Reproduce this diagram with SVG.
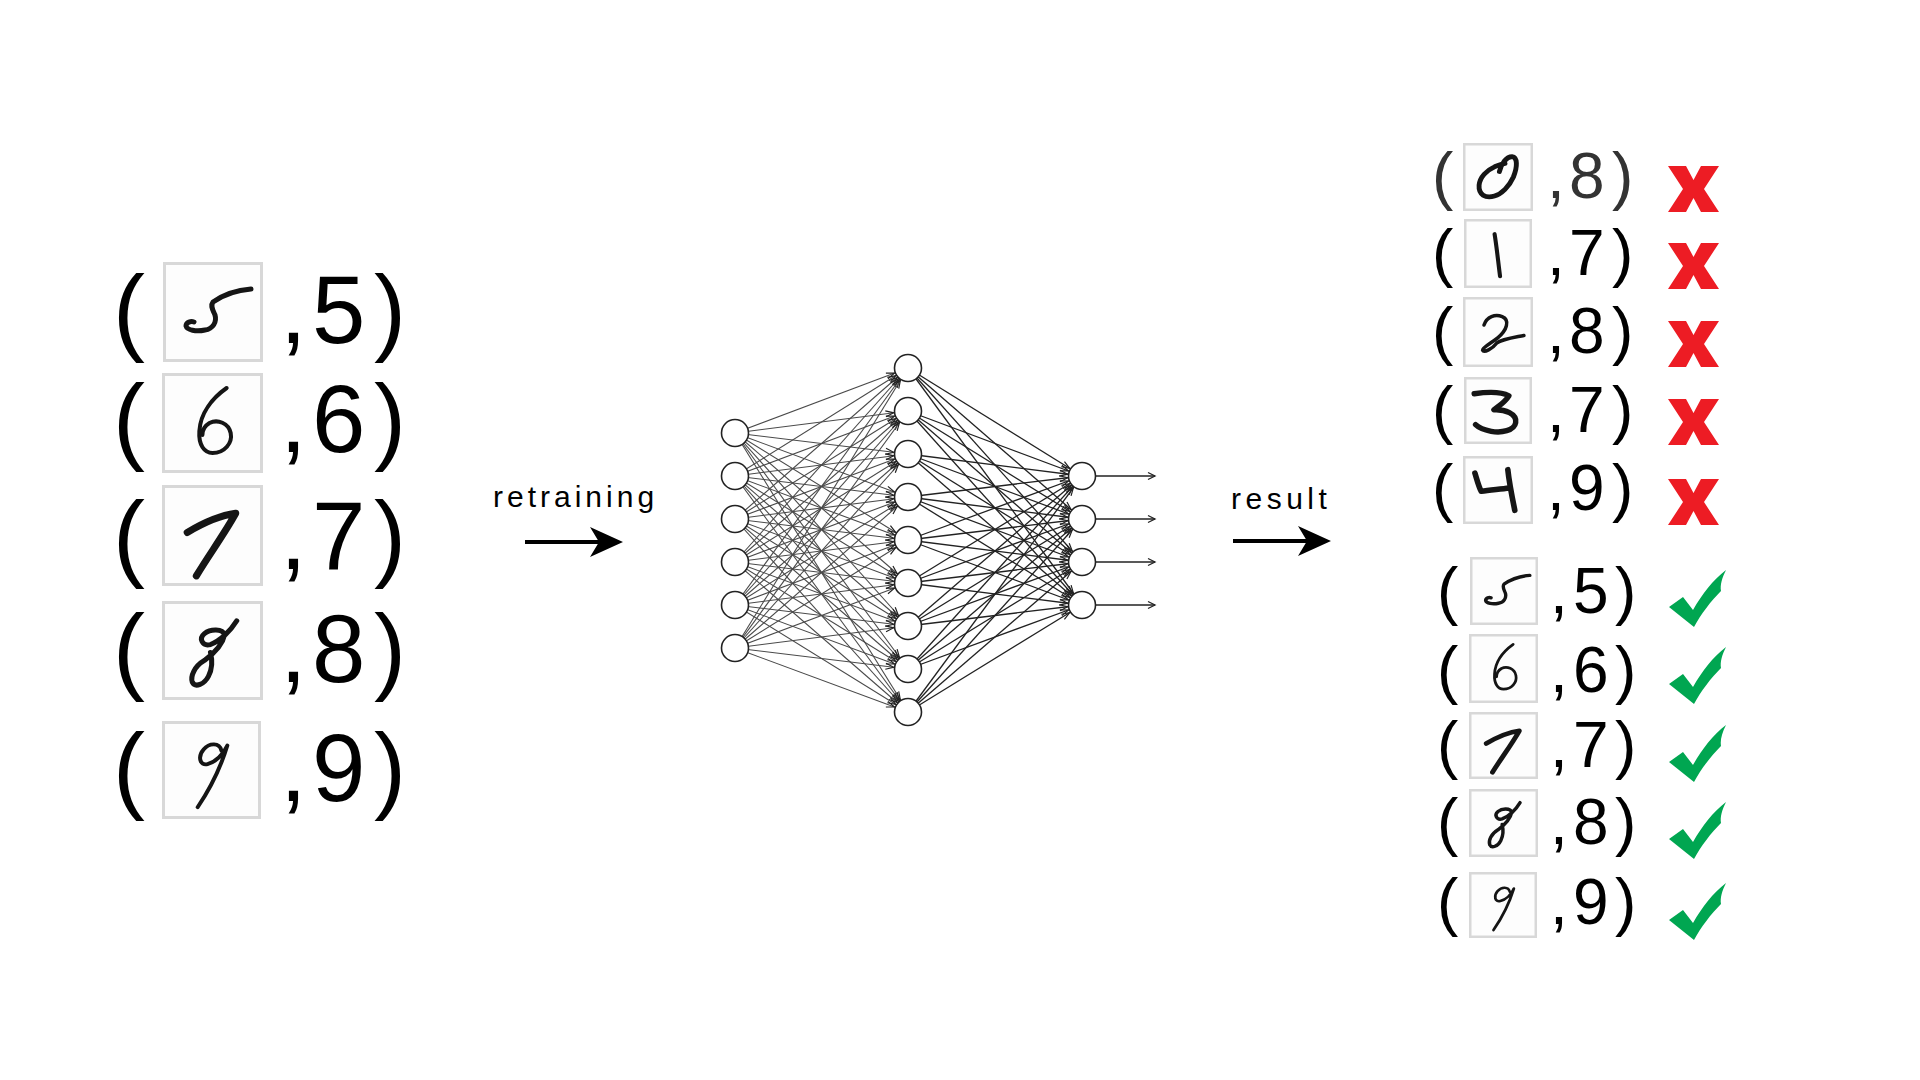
<svg xmlns="http://www.w3.org/2000/svg" width="1920" height="1080" viewBox="0 0 1920 1080">
<style>
.t{font-family:"Liberation Sans",Arial,sans-serif;fill:#000}
.big{font-size:96px}
.med{font-size:64px}
.lab{font-size:30px}
.box{fill:#fdfdfd;stroke:#d8d8d8;stroke-width:3}
.dg{fill:none;stroke:#151515;stroke-linecap:round;stroke-linejoin:round}
.node{fill:#fff;stroke:#222;stroke-width:1.6}
.x{fill:#ed1c24}
.ok{fill:#00a651}
</style>
<defs>
<marker id="ah" markerUnits="userSpaceOnUse" markerWidth="30" markerHeight="12" refX="28.5" refY="6" orient="auto">
<path d="M6,3 L14,6 L6,9" fill="none" stroke="#222" stroke-width="1.2"/>
</marker>
<marker id="ao" markerUnits="userSpaceOnUse" markerWidth="12" markerHeight="12" refX="10" refY="6" orient="auto">
<path d="M3,2.5 L10,6 L3,9.5" fill="none" stroke="#222" stroke-width="1.3"/>
</marker>
<symbol id="d0" viewBox="0 0 100 100" preserveAspectRatio="none"><path class="dg" stroke-width="7" d="M52,42 C55,30 62,20 70,20 C78,21 78,35 72,50 C66,64 55,75 45,78 C32,82 22,76 23,62 C24,50 34,40 45,35 C50,33 55,31 60,30"/></symbol>
<symbol id="d1" viewBox="0 0 100 100" preserveAspectRatio="none"><path class="dg" stroke-width="6" d="M45,22 C48,40 50,60 53,83"/></symbol>
<symbol id="d2" viewBox="0 0 100 100" preserveAspectRatio="none"><path class="dg" stroke-width="5" d="M30,40 C34,28 46,24 56,28 C68,33 62,48 50,58 C40,66 28,72 28,76 C30,80 42,74 48,66 C56,60 72,58 87,55"/></symbol>
<symbol id="d3" viewBox="0 0 100 100" preserveAspectRatio="none"><path class="dg" stroke-width="8" d="M15,25 C35,22 55,22 66,28 C60,38 50,44 44,49 C60,48 78,55 76,68 C74,80 55,84 40,81 C30,79 22,76 17,71"/></symbol>
<symbol id="d4" viewBox="0 0 100 100" preserveAspectRatio="none"><path class="dg" stroke-width="8" d="M17,25 C20,35 22,44 26,52 C38,50 52,49 66,47 M64,20 C66,40 70,60 74,80"/></symbol>
<symbol id="d5" viewBox="0 0 100 100" preserveAspectRatio="none"><path class="dg" stroke-width="5" d="M88,27 C75,28 60,33 50,40 C47,44 50,48 52,53 C54,60 50,67 42,68 C33,70 24,68 23,64 C23,60 28,59 31,60"/></symbol>
<symbol id="d6" viewBox="0 0 100 100" preserveAspectRatio="none"><path class="dg" stroke-width="4" d="M64,15 C50,25 38,40 37,58 C36,72 42,80 50,80 C62,80 70,70 68,60 C66,50 55,46 47,50 C42,53 40,58 40,62"/></symbol>
<symbol id="d7" viewBox="0 0 100 100" preserveAspectRatio="none"><path class="dg" stroke-width="7" d="M25,47 C40,38 58,30 73,28 C62,48 46,70 34,90"/></symbol>
<symbol id="d8" viewBox="0 0 100 100" preserveAspectRatio="none"><path class="dg" stroke-width="5" d="M74,20 C68,30 58,40 48,44 C40,46 36,38 42,33 C48,28 60,28 62,34 C60,44 50,54 42,60 C32,66 28,76 30,82 C33,88 42,84 46,76 C50,68 50,60 48,52"/></symbol>
<symbol id="d9" viewBox="0 0 100 100" preserveAspectRatio="none"><path class="dg" stroke-width="4" d="M60,30 C58,22 48,22 42,29 C36,36 38,46 46,44 C54,42 62,34 66,25 C60,45 48,70 36,88"/></symbol>
<path id="xm" d="M0,0 L18,0 L25.5,14 L33,0 L51,0 L36,23 L51,46 L33,46 L25.5,32 L18,46 L0,46 L15,23 Z"/>
<path id="ck" d="M0,37 L14,27 L24,40 C33,24 44,10 57,0 C53,8 51,15 52,21 C42,31 32,44 25,57 Z"/>
</defs>
<rect width="1920" height="1080" fill="#fff"/>

<!-- left training samples -->
<g id="train-5">
<text class="t big" x="113" y="343">(</text>
<rect class="box" x="164.5" y="263.5" width="97" height="97"/><use href="#d5" x="163" y="262" width="100" height="100"/>
<text class="t big" x="280 312 374" y="343">,5)</text>
</g>
<g id="train-6">
<text class="t big" x="113" y="452">(</text>
<rect class="box" x="163.5" y="374.5" width="98" height="97"/><use href="#d6" x="162" y="373" width="101" height="100"/>
<text class="t big" x="280 312 374" y="452">,6)</text>
</g>
<g id="train-7">
<text class="t big" x="113" y="569">(</text>
<rect class="box" x="163.5" y="486.5" width="98" height="98"/><use href="#d7" x="162" y="485" width="101" height="101"/>
<text class="t big" x="280 312 374" y="569">,7)</text>
</g>
<g id="train-8">
<text class="t big" x="113" y="682">(</text>
<rect class="box" x="163.5" y="602.5" width="98" height="96"/><use href="#d8" x="162" y="601" width="101" height="99"/>
<text class="t big" x="280 312 374" y="682">,8)</text>
</g>
<g id="train-9">
<text class="t big" x="113" y="801">(</text>
<rect class="box" x="163.5" y="722.5" width="96" height="95"/><use href="#d9" x="162" y="721" width="99" height="98"/>
<text class="t big" x="280 312 374" y="801">,9)</text>
</g>

<!-- labels and big arrows -->
<g id="retraining">
<text class="t lab" x="493" y="507" letter-spacing="4">retraining</text>
<line x1="525" y1="542" x2="602" y2="542" stroke="#000" stroke-width="4"/>
<polygon points="623,542 590,527 599,542 590,557" fill="#000"/>
</g>
<g id="result">
<text class="t lab" x="1231" y="509" letter-spacing="4.5">result</text>
<line x1="1233" y1="541" x2="1308" y2="541" stroke="#000" stroke-width="4"/>
<polygon points="1331,541 1298,526 1307,541 1298,556" fill="#000"/>
</g>

<!-- network connectors -->
<g id="connectors" fill="none">
<g stroke="#4a4a4a" stroke-width="1.1" marker-end="url(#ah)">
<line x1="735" y1="433" x2="908" y2="368"/><line x1="735" y1="433" x2="908" y2="411"/><line x1="735" y1="433" x2="908" y2="454"/><line x1="735" y1="433" x2="908" y2="497"/><line x1="735" y1="433" x2="908" y2="540"/><line x1="735" y1="433" x2="908" y2="583"/><line x1="735" y1="433" x2="908" y2="626"/><line x1="735" y1="433" x2="908" y2="669"/><line x1="735" y1="433" x2="908" y2="712"/>
<line x1="735" y1="476" x2="908" y2="368"/><line x1="735" y1="476" x2="908" y2="411"/><line x1="735" y1="476" x2="908" y2="454"/><line x1="735" y1="476" x2="908" y2="497"/><line x1="735" y1="476" x2="908" y2="540"/><line x1="735" y1="476" x2="908" y2="583"/><line x1="735" y1="476" x2="908" y2="626"/><line x1="735" y1="476" x2="908" y2="669"/><line x1="735" y1="476" x2="908" y2="712"/>
<line x1="735" y1="519" x2="908" y2="368"/><line x1="735" y1="519" x2="908" y2="411"/><line x1="735" y1="519" x2="908" y2="454"/><line x1="735" y1="519" x2="908" y2="497"/><line x1="735" y1="519" x2="908" y2="540"/><line x1="735" y1="519" x2="908" y2="583"/><line x1="735" y1="519" x2="908" y2="626"/><line x1="735" y1="519" x2="908" y2="669"/><line x1="735" y1="519" x2="908" y2="712"/>
<line x1="735" y1="562" x2="908" y2="368"/><line x1="735" y1="562" x2="908" y2="411"/><line x1="735" y1="562" x2="908" y2="454"/><line x1="735" y1="562" x2="908" y2="497"/><line x1="735" y1="562" x2="908" y2="540"/><line x1="735" y1="562" x2="908" y2="583"/><line x1="735" y1="562" x2="908" y2="626"/><line x1="735" y1="562" x2="908" y2="669"/><line x1="735" y1="562" x2="908" y2="712"/>
<line x1="735" y1="605" x2="908" y2="368"/><line x1="735" y1="605" x2="908" y2="411"/><line x1="735" y1="605" x2="908" y2="454"/><line x1="735" y1="605" x2="908" y2="497"/><line x1="735" y1="605" x2="908" y2="540"/><line x1="735" y1="605" x2="908" y2="583"/><line x1="735" y1="605" x2="908" y2="626"/><line x1="735" y1="605" x2="908" y2="669"/><line x1="735" y1="605" x2="908" y2="712"/>
<line x1="735" y1="648" x2="908" y2="368"/><line x1="735" y1="648" x2="908" y2="411"/><line x1="735" y1="648" x2="908" y2="454"/><line x1="735" y1="648" x2="908" y2="497"/><line x1="735" y1="648" x2="908" y2="540"/><line x1="735" y1="648" x2="908" y2="583"/><line x1="735" y1="648" x2="908" y2="626"/><line x1="735" y1="648" x2="908" y2="669"/><line x1="735" y1="648" x2="908" y2="712"/>
</g>
<g stroke="#222" stroke-width="1.3" marker-end="url(#ah)">
<line x1="908" y1="368" x2="1082" y2="476"/><line x1="908" y1="368" x2="1082" y2="519"/><line x1="908" y1="368" x2="1082" y2="562"/><line x1="908" y1="368" x2="1082" y2="605"/>
<line x1="908" y1="411" x2="1082" y2="476"/><line x1="908" y1="411" x2="1082" y2="519"/><line x1="908" y1="411" x2="1082" y2="562"/><line x1="908" y1="411" x2="1082" y2="605"/>
<line x1="908" y1="454" x2="1082" y2="476"/><line x1="908" y1="454" x2="1082" y2="519"/><line x1="908" y1="454" x2="1082" y2="562"/><line x1="908" y1="454" x2="1082" y2="605"/>
<line x1="908" y1="497" x2="1082" y2="476"/><line x1="908" y1="497" x2="1082" y2="519"/><line x1="908" y1="497" x2="1082" y2="562"/><line x1="908" y1="497" x2="1082" y2="605"/>
<line x1="908" y1="540" x2="1082" y2="476"/><line x1="908" y1="540" x2="1082" y2="519"/><line x1="908" y1="540" x2="1082" y2="562"/><line x1="908" y1="540" x2="1082" y2="605"/>
<line x1="908" y1="583" x2="1082" y2="476"/><line x1="908" y1="583" x2="1082" y2="519"/><line x1="908" y1="583" x2="1082" y2="562"/><line x1="908" y1="583" x2="1082" y2="605"/>
<line x1="908" y1="626" x2="1082" y2="476"/><line x1="908" y1="626" x2="1082" y2="519"/><line x1="908" y1="626" x2="1082" y2="562"/><line x1="908" y1="626" x2="1082" y2="605"/>
<line x1="908" y1="669" x2="1082" y2="476"/><line x1="908" y1="669" x2="1082" y2="519"/><line x1="908" y1="669" x2="1082" y2="562"/><line x1="908" y1="669" x2="1082" y2="605"/>
<line x1="908" y1="712" x2="1082" y2="476"/><line x1="908" y1="712" x2="1082" y2="519"/><line x1="908" y1="712" x2="1082" y2="562"/><line x1="908" y1="712" x2="1082" y2="605"/>
</g>
<g stroke="#222" stroke-width="1.3" marker-end="url(#ao)">
<line x1="1095" y1="476" x2="1155" y2="476"/><line x1="1095" y1="519" x2="1155" y2="519"/><line x1="1095" y1="562" x2="1155" y2="562"/><line x1="1095" y1="605" x2="1155" y2="605"/>
</g>
</g>

<!-- network nodes -->
<g id="input-layer">
<g id="in-1"><circle class="node" cx="735" cy="433" r="13.5"/></g>
<g id="in-2"><circle class="node" cx="735" cy="476" r="13.5"/></g>
<g id="in-3"><circle class="node" cx="735" cy="519" r="13.5"/></g>
<g id="in-4"><circle class="node" cx="735" cy="562" r="13.5"/></g>
<g id="in-5"><circle class="node" cx="735" cy="605" r="13.5"/></g>
<g id="in-6"><circle class="node" cx="735" cy="648" r="13.5"/></g>
</g>
<g id="hidden-layer">
<g id="h-1"><circle class="node" cx="908" cy="368" r="13.5"/></g>
<g id="h-2"><circle class="node" cx="908" cy="411" r="13.5"/></g>
<g id="h-3"><circle class="node" cx="908" cy="454" r="13.5"/></g>
<g id="h-4"><circle class="node" cx="908" cy="497" r="13.5"/></g>
<g id="h-5"><circle class="node" cx="908" cy="540" r="13.5"/></g>
<g id="h-6"><circle class="node" cx="908" cy="583" r="13.5"/></g>
<g id="h-7"><circle class="node" cx="908" cy="626" r="13.5"/></g>
<g id="h-8"><circle class="node" cx="908" cy="669" r="13.5"/></g>
<g id="h-9"><circle class="node" cx="908" cy="712" r="13.5"/></g>
</g>
<g id="output-layer">
<g id="out-1"><circle class="node" cx="1082" cy="476" r="13.5"/></g>
<g id="out-2"><circle class="node" cx="1082" cy="519" r="13.5"/></g>
<g id="out-3"><circle class="node" cx="1082" cy="562" r="13.5"/></g>
<g id="out-4"><circle class="node" cx="1082" cy="605" r="13.5"/></g>
</g>

<!-- results: wrong -->
<g id="res-0">
<text class="t med" x="1432" y="198" style="fill:#333">(</text>
<rect class="box" x="1464.25" y="144.25" width="67.5" height="65.5" style="stroke-width:2.5"/><use href="#d0" x="1463" y="143" width="70" height="68"/>
<text class="t med" x="1547 1569 1612" y="198" style="fill:#333">,8)</text>
<use href="#xm" class="x" x="1668" y="166"/>
</g>
<g id="res-1">
<text class="t med" x="1432" y="275">(</text>
<rect class="box" x="1465.25" y="220.25" width="65.5" height="66.5" style="stroke-width:2.5"/><use href="#d1" x="1464" y="219" width="68" height="69"/>
<text class="t med" x="1547 1569 1612" y="275">,7)</text>
<use href="#xm" class="x" x="1668" y="243"/>
</g>
<g id="res-2">
<text class="t med" x="1432" y="353">(</text>
<rect class="box" x="1464.25" y="298.25" width="67.5" height="67.5" style="stroke-width:2.5"/><use href="#d2" x="1463" y="297" width="70" height="70"/>
<text class="t med" x="1547 1569 1612" y="353">,8)</text>
<use href="#xm" class="x" x="1668" y="321"/>
</g>
<g id="res-3">
<text class="t med" x="1432" y="432">(</text>
<rect class="box" x="1465.25" y="378.25" width="65.5" height="64.5" style="stroke-width:2.5"/><use href="#d3" x="1464" y="377" width="68" height="67"/>
<text class="t med" x="1547 1569 1612" y="432">,7)</text>
<use href="#xm" class="x" x="1668" y="399"/>
</g>
<g id="res-4">
<text class="t med" x="1432" y="510">(</text>
<rect class="box" x="1464.25" y="457.25" width="67.5" height="65.5" style="stroke-width:2.5"/><use href="#d4" x="1463" y="456" width="70" height="68"/>
<text class="t med" x="1547 1569 1612" y="510">,9)</text>
<use href="#xm" class="x" x="1668" y="479"/>
</g>

<!-- results: correct -->
<g id="res-5">
<text class="t med" x="1437" y="613">(</text>
<rect class="box" x="1471.25" y="558.25" width="65.5" height="65.5" style="stroke-width:2.5"/><use href="#d5" x="1470" y="557" width="68" height="68"/>
<text class="t med" x="1550 1573 1615" y="613">,5)</text>
<use href="#ck" class="ok" x="1669" y="570"/>
</g>
<g id="res-6">
<text class="t med" x="1437" y="692">(</text>
<rect class="box" x="1470.25" y="635.25" width="66.5" height="66.5" style="stroke-width:2.5"/><use href="#d6" x="1469" y="634" width="69" height="69"/>
<text class="t med" x="1550 1573 1615" y="692">,6)</text>
<use href="#ck" class="ok" x="1669" y="647"/>
</g>
<g id="res-7">
<text class="t med" x="1437" y="767">(</text>
<rect class="box" x="1470.25" y="713.25" width="66.5" height="64.5" style="stroke-width:2.5"/><use href="#d7" x="1469" y="712" width="69" height="67"/>
<text class="t med" x="1550 1573 1615" y="767">,7)</text>
<use href="#ck" class="ok" x="1669" y="725"/>
</g>
<g id="res-8">
<text class="t med" x="1437" y="844">(</text>
<rect class="box" x="1470.25" y="790.25" width="66.5" height="65.5" style="stroke-width:2.5"/><use href="#d8" x="1469" y="789" width="69" height="68"/>
<text class="t med" x="1550 1573 1615" y="844">,8)</text>
<use href="#ck" class="ok" x="1669" y="802"/>
</g>
<g id="res-9">
<text class="t med" x="1437" y="924">(</text>
<rect class="box" x="1470.25" y="873.25" width="65.5" height="63.5" style="stroke-width:2.5"/><use href="#d9" x="1469" y="872" width="68" height="66"/>
<text class="t med" x="1550 1573 1615" y="924">,9)</text>
<use href="#ck" class="ok" x="1669" y="883"/>
</g>
</svg>
